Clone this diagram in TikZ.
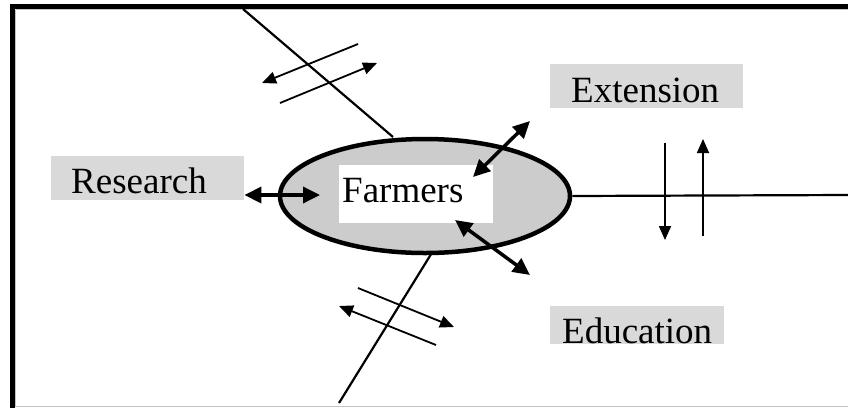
\documentclass[tikz,border=0pt]{standalone}
\usepackage{fontspec}
\setmainfont{Liberation Serif}
\usetikzlibrary{arrows.meta,shapes.geometric}
\begin{document}
\begin{tikzpicture}[x=1pt,y=-1pt,
  labelbox/.style={fill=boxgray,draw=none,inner sep=0pt,anchor=north west},
  labeltext/.style={anchor=base west,inner sep=0pt,font=\fontsize{37}{40}\selectfont},
  bigarrow/.style={line width=3.5pt,{Triangle[length=17pt,width=16pt]}-{Triangle[length=17pt,width=16pt]}},
  flowarrow/.style={line width=1.8pt,-{Triangle[length=14pt,width=12pt]}},
  axisline/.style={line width=2.2pt}]
\definecolor{boxgray}{HTML}{D9D9D9}
\definecolor{ellgray}{HTML}{CCCCCC}
\definecolor{edgegray}{HTML}{C4C4C4}
\useasboundingbox (0,0) rectangle (848,408);
\fill[white] (0,0) rectangle (848,408);

% frame
\draw[edgegray,line width=1pt] (15.5,406.5) -- (848,406.5);
\draw[edgegray,line width=1pt] (15.5,9.5) -- (15.5,406.5);
\draw[edgegray,line width=1pt] (15.5,9.5) -- (848,9.5);
\draw[line width=5pt] (12.5,408) -- (12.5,6.5) -- (848,6.5);

% spokes
\coordinate (topend) at (243,9);
\coordinate (topfoot) at (393,137);
\coordinate (botfoot) at (433,251);
\coordinate (botend) at (339,403);
\coordinate (rightend) at (848,195);
\draw[axisline] (topend) -- (topfoot);
\draw[axisline] (botfoot) -- (botend);

% farmers
\node[ellipse,draw,line width=4.5pt,fill=ellgray,minimum width=290pt,minimum height=114pt,inner sep=0pt] (farmers) at (425,196) {};
\draw[axisline] (farmers.east) -- (rightend);
\node[fill=white,anchor=north west,minimum width=154pt,minimum height=58pt,inner sep=0pt] (farmersbox) at (339,165) {};
\node[labeltext] (farmerstext) at (342,202) {Farmers};

% labels
\node[labelbox,minimum width=193pt,minimum height=44pt] (research) at (51,156) {};
\node[labeltext] (researchtext) at (71,193) {Research};
\node[labelbox,minimum width=193pt,minimum height=44pt] (extension) at (550,64) {};
\node[labeltext] (extensiontext) at (571,102) {Extension};
\node[labelbox,minimum width=174pt,minimum height=38pt] (education) at (550,306) {};
\node[labeltext] (educationtext) at (562,343) {Education};

% exchanges with farmers
\coordinate (resfarm) at (320,195);
\coordinate (extout) at (530,121);
\coordinate (extin) at (473,177);
\coordinate (eduin) at (455,220);
\coordinate (eduout) at (530,275);
\draw[bigarrow] (research.east |- resfarm) -- (resfarm);
\draw[bigarrow] (extin) -- (extout);
\draw[bigarrow] (eduin) -- (eduout);

% flows across the spokes
\coordinate (ta1) at (358,44);  \coordinate (ta2) at (262,83);
\coordinate (tb1) at (280,103); \coordinate (tb2) at (377,63);
\coordinate (ba1) at (358,288); \coordinate (ba2) at (454,327);
\coordinate (bb1) at (436,345); \coordinate (bb2) at (339,306);
\coordinate (ra1) at (665,143); \coordinate (ra2) at (665,240);
\coordinate (rb1) at (703,236); \coordinate (rb2) at (703,139);
\draw[flowarrow] (ta1) -- (ta2);
\draw[flowarrow] (tb1) -- (tb2);
\draw[flowarrow] (ba1) -- (ba2);
\draw[flowarrow] (bb1) -- (bb2);
\draw[flowarrow] (ra1) -- (ra2);
\draw[flowarrow] (rb1) -- (rb2);
\end{tikzpicture}
\end{document}
